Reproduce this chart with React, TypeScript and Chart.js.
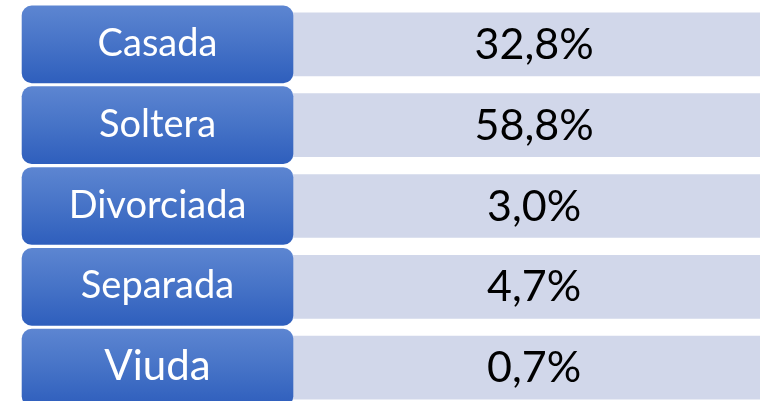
import { useEffect, useRef } from "react";
import { Chart, registerables } from "chart.js";
Chart.register(...registerables);

const categories = ["Casada", "Soltera", "Divorciada", "Separada", "Viuda"];
const percentages = [32.8, 58.8, 3.0, 4.7, 0.7];
const labelSpan: [number, number] = [2.9, 38.55];
const valueSpan: [number, number] = [38.55, 102];
const labelFontSizes = [38, 38, 38, 38, 42];

const fmt = (v: number) => v.toFixed(1).replace(".", ",") + "%";

export default function App() {
  const ref = useRef<HTMLCanvasElement>(null);
  useEffect(() => {
    document.body.style.margin = "0";
    const canvas = ref.current!;
    const textPlugin = {
      id: "cellText",
      afterDatasetsDraw(chart: any) {
        const c = chart.ctx;
        const m0 = chart.getDatasetMeta(0);
        const m1 = chart.getDatasetMeta(1);
        c.save();
        c.textAlign = "center";
        c.textBaseline = "alphabetic";
        m0.data.forEach((el: any, i: number) => {
          const cx = (el.x + el.base) / 2;
          const fs = labelFontSizes[i];
          c.font = fs + "px Lato";
          c.fillStyle = "#ffffff";
          c.fillText(categories[i], cx, el.y + 11.5 + (fs - 38) * 0.3);
        });
        m1.data.forEach((el: any, i: number) => {
          const cx = (el.x + el.base) / 2;
          c.font = "43px Lato";
          c.fillStyle = "#000000";
          c.fillText(fmt(percentages[i]), cx, el.y + 14.5);
        });
        c.restore();
      },
    };
    const blueGrad = (ctx: any) => {
      const chart = ctx.chart;
      const ys = chart.scales && chart.scales.y;
      if (!ys || ctx.dataIndex === undefined) return "#4472c4";
      const yc = ys.getPixelForValue(ctx.dataIndex);
      if (!isFinite(yc)) return "#4472c4";
      const g = chart.ctx.createLinearGradient(0, yc - 38, 0, yc + 38);
      g.addColorStop(0, "#5c85d1");
      g.addColorStop(0.5, "#4673c7");
      g.addColorStop(1, "#2f5fbd");
      return g;
    };
    const chart = new Chart(canvas, {
      type: "bar",
      data: {
        labels: categories,
        datasets: [
          {
            data: categories.map(() => labelSpan),
            backgroundColor: blueGrad,
            borderRadius: 10,
            borderSkipped: false,
            barThickness: 77,
            order: 0,
          } as any,
          {
            data: percentages.map(() => valueSpan),
            backgroundColor: "#d1d7ea",
            barThickness: 63,
            order: 1,
          } as any,
        ],
      },
      options: {
        indexAxis: "y",
        responsive: false,
        animation: false,
        layout: { padding: { top: 4, bottom: 2, left: 0, right: 0 } },
        plugins: { legend: { display: false }, tooltip: { enabled: false } },
        scales: {
          x: { type: "linear", min: 0, max: 100, display: false, stacked: false },
          y: { type: "category", display: false, offset: true, grid: { display: false } },
        },
        datasets: { bar: { grouped: false } } as any,
      },
      plugins: [textPlugin],
    });
    chart.update();
    (document as any).fonts?.load("38px Lato").then(() => {
      if ((chart as any).ctx) chart.update();
    });
    return () => chart.destroy();
  }, []);
  return (
    <div style={{ position: "relative", width: 760, height: 401, overflow: "hidden" }}>
      <canvas ref={ref} width={760} height={410} style={{ display: "block", width: 760, height: 410 }} />
    </div>
  );
}
